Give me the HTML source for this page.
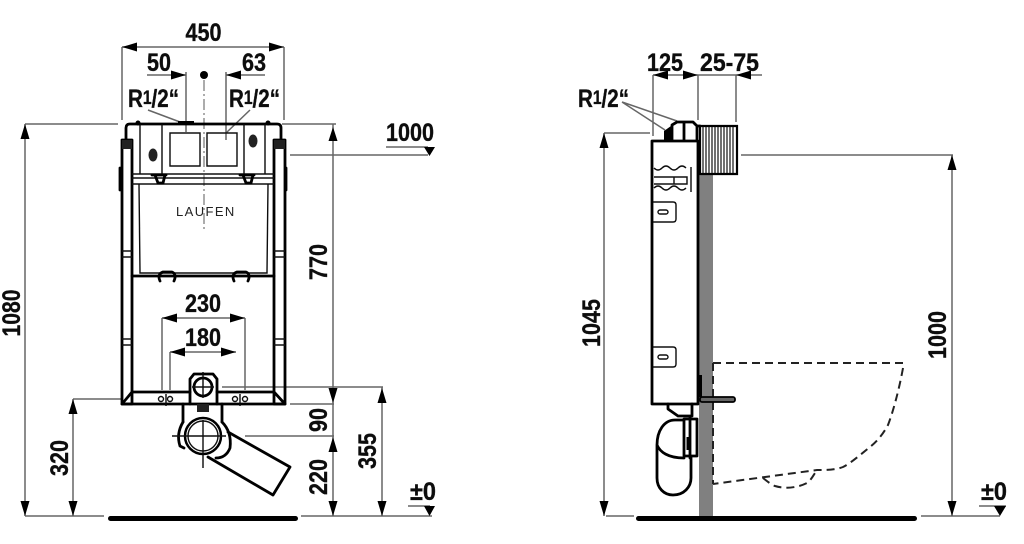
<!DOCTYPE html>
<html><head><meta charset="utf-8"><style>
html,body{margin:0;padding:0;background:#fff;width:1024px;height:544px;overflow:hidden}
svg{display:block}
text{font-family:"Liberation Sans",sans-serif;font-weight:bold;font-size:25px;fill:#111;stroke:#111;stroke-width:.35}
.d{stroke:#666;stroke-width:1.5;fill:none}
.k{stroke:#000;stroke-width:2.8;fill:none;stroke-linejoin:round;stroke-linecap:round}
.t{stroke:#111;stroke-width:1.4;fill:none}
.c{stroke:#888;stroke-width:1.4;fill:none;stroke-dasharray:11 3 2 3}
.b{stroke:#222;stroke-width:2;fill:none;stroke-dasharray:8 5}
</style></head><body>
<svg width="1024" height="544" viewBox="0 0 1024 544" xmlns="http://www.w3.org/2000/svg">
<defs><filter id="s" x="0" y="0" width="100%" height="100%"><feGaussianBlur stdDeviation="0.35"/></filter></defs>
<rect width="1024" height="544" fill="#fff"/>
<g filter="url(#s)">
<!-- LEFT dims -->
<path class="d" d="M122 47H284M122 47V120M284 47V120M147 75H186M226 75H265M186 72V132M226 72V140M25 124H118M25 124V516M25 516H104M73 399H122M73 399V516M282 124H336M333 124V516M290 155H428M162 318H245M162 318V390M245 318V390M170 352H236M170 352V390M222 387H383M382 387V516M290 404H334M245 436H334M301 516H432M148 110L180 122M250 110L226 133M386 147H428M408 506H430"/>
<g fill="#000">
<path d="M122 47l15-4.500v9zM284 47l-15-4.500v9zM186 75l-15-4.500v9zM226 75l15-4.500v9z"/>
<path d="M25 124l-4.500 15h9zM25 516l-4.500-15h9zM73 399l-4.500 15h9zM73 516l-4.500-15h9zM333 127l-4.500 14h9zM333 403l-4.500-15h9zM333 437l-4.500 15h9zM333 516l-4.500-15h9zM382 388l-4.500 15h9zM382 516l-4.500-15h9z"/>
<path d="M162 318l15-4.500v9zM245 318l-15-4.500v9zM170 352l15-4.500v9zM236 352l-15-4.500v9z"/>
<path d="M424 147h11l-5.500 9zM424 506h11l-5.500 10z"/>
<circle cx="204" cy="75" r="4"/>
<rect x="108" y="516" width="190" height="5" rx="2.500"/>
</g>
<path class="c" d="M204 80V232"/>
<!-- LEFT frame -->
<path class="k" d="M126 140V128Q126 124 130 124H277Q281 124 281 128V140"/>
<path class="k" d="M122 140H132V404H122ZM274 140H285V404H274Z" />
<path class="k" d="M122 404H285M132 392H190M217 392H274M122 404L132 392M285 404L274 392"/>
<path class="t" stroke-width="1.700" d="M140 124V174M265 124V174M162 124V174M244 124V174"/>
<path class="t" stroke-width="1.900" d="M170 133H200V166H170ZM207 133H237V166H207Z"/>
<path class="t" stroke-width="1.600" d="M132 174H274M132 178H274M132 184H274"/>
<path class="k" stroke-width="1.800" d="M152 175H166M155 175L158 183H163L165 175M240 175H254M243 175L246 183H251L253 175"/>
<path class="t" stroke-width="1.700" d="M139 184L140 273H267L268 184"/>
<path class="k" stroke-width="2" d="M132 276H274"/>
<path class="k" stroke-width="1.800" d="M160 281q-3-7 3-9H172q5 2 2 9M234 281q-3-7 3-9H246q5 2 2 9"/>
<ellipse cx="153" cy="155" rx="4.500" ry="6.500" fill="#222"/><ellipse cx="253" cy="141" rx="4.500" ry="6.500" fill="#222"/>
<rect x="122" y="140" width="10" height="9" fill="#222"/><rect x="274" y="140" width="11" height="9" fill="#222"/>
<path class="k" stroke-width="2.500" d="M120 168V190M286 168V190"/>
<path class="t" stroke-width="1.700" d="M122 251H132M122 257H132M274 251H285M274 257H285M122 339H132M122 345H132M274 339H285M274 345H285"/>
<rect x="178" y="121" width="16" height="3" fill="#000"/>
<circle cx="138" cy="123" r="2.500" fill="#000"/><circle cx="268" cy="123" r="2.500" fill="#000"/>
<text x="176" y="216" style="font-weight:normal;font-size:13px;letter-spacing:1.400px;stroke:none;fill:#222">LAUFEN</text>
<!-- bolts -->
<g class="t"><circle cx="161" cy="399" r="2.500"/><circle cx="170" cy="399" r="2.500"/><circle cx="235" cy="399" r="2.500"/><circle cx="245" cy="399" r="2.500"/><path d="M166 394V406M240 394V406"/></g>
<!-- pipe -->
<path class="k" fill="#fff" d="M190 392V379L194 374H213L217 379V392M190 392V404M217 392V404"/>
<circle class="k" cx="203" cy="387" r="9"/><path class="t" d="M203 372V398M192 387H214"/>
<path class="k" d="M183 404V422M222 404V422"/>
<path d="M197 404h12v8h-12z" fill="#222"/>
<path class="k" stroke-width="2.800" d="M183 422Q176 434 180 446L184 448M222 422Q232 432 230 448Q226 458 216 458"/>
<path class="k" d="M228 432L290 467L273 495L208 457"/>
<circle cx="203" cy="436" r="18" fill="#fff" stroke="#000" stroke-width="2.500"/><circle cx="203" cy="436" r="15" class="t"/>
<path class="t" d="M203 420V468M172 436H226" stroke="#555"/>
<!-- RIGHT dims -->
<path class="d" d="M653 75H698M698 75H762M653 75V136M698 75V120M736 75V122M622 102L677 121M622 102L665 130M604 133H650M604 133V516M741 155H953M952 155V516M606 516H634M921 516H1000M979 506H1006"/>
<g fill="#000">
<path d="M653 75l15-4.500v9zM698 75l-15-4.500v9zM736 75l15-4.500v9z"/>
<path d="M604 133l-4.500 15h9zM604 516l-4.500-15h9zM952 155l-4.500 15h9zM952 516l-4.500-15h9z"/>
<path d="M994 506h12l-6 10z"/>
<rect x="636" y="516" width="281" height="5" rx="2.500"/>
</g>
<!-- wall -->
<rect x="699" y="174" width="14" height="342" fill="#808080"/>
<!-- ribbed box -->
<path d="M700 126H737V174H700Z" fill="#fff" stroke="#000" stroke-width="2.200"/>
<path stroke="#222" stroke-width="1.300" d="M703 127V173M706 127V173M709 127V173M712 127V173M715 127V173M718 127V173M721 127V173M724 127V173M727 127V173M730 127V173M733 127V173"/>
<!-- panel -->
<path class="k" d="M652 141H698V404H652Z"/>
<path class="k" d="M672 140V125L677 122H693L697 126V140M684 122V140"/>
<path d="M664 140V131L671 126V140Z" fill="#000"/>
<path class="k" stroke-width="1.500" d="M697 126H700"/>
<path class="t" stroke-width="1.800" d="M654 168q4 4 8 0t8 0t8 0t8 0M654 188q4-4 8 0t8 0t8 0t8 0M691 167V192M654 177H687V184H654M674 177V184"/>
<path class="t" stroke-width="1.800" d="M653 202H673Q676 202 676 205V219Q676 222 673 222H653M653 347H673Q676 347 676 350V364Q676 367 673 367H653"/>
<rect x="658" y="210" width="10" height="4" rx="2" class="t"/><rect x="658" y="355" width="10" height="4" rx="2" class="t"/>
<!-- bowl -->
<path class="b" d="M713 363H903M903 368C899 390 893 412 888 425C882 436 876 442 870 447C860 455 851 463 843 467C835 470 826 470 817 470L713 484M713 363V484M763 478C768 482 772 485 775 486C785 489 797 488 807 483C811 480 813 476 815 473"/>
<!-- bracket -->
<rect x="700" y="397" width="35" height="5" rx="2" fill="#666" stroke="#000" stroke-width="1.800"/>
<rect x="699" y="375" width="3" height="22" fill="#000"/>
<!-- siphon -->
<path class="k" d="M668 404V409L678 416H692V404M684 420H675C664 420 657 431 657 445V478C657 488 664 495 673 495C684 495 691 487 691 478V457M657 445C660 452 668 458 684 458"/>
<path class="k" stroke-width="2" d="M684 419H697V456H684ZM690 417V458"/>
<path stroke="#000" stroke-width="3" d="M688 437V450"/>
<!-- LEFT text -->
<text x="203.500" y="41" text-anchor="middle" textLength="36" lengthAdjust="spacingAndGlyphs">450</text>
<text x="147" y="71" textLength="24" lengthAdjust="spacingAndGlyphs">50</text>
<text x="242" y="71" textLength="24" lengthAdjust="spacingAndGlyphs">63</text>
<text x="128" y="107" textLength="51" lengthAdjust="spacingAndGlyphs">R<tspan font-size="19" dy="-3">1</tspan><tspan dy="3">/2“</tspan></text>
<text x="229" y="107" textLength="51" lengthAdjust="spacingAndGlyphs">R<tspan font-size="19" dy="-3">1</tspan><tspan dy="3">/2“</tspan></text>
<text x="386" y="141" textLength="48" lengthAdjust="spacingAndGlyphs">1000</text>
<text x="203" y="312" text-anchor="middle" textLength="36" lengthAdjust="spacingAndGlyphs">230</text>
<text x="203" y="346" text-anchor="middle" textLength="36" lengthAdjust="spacingAndGlyphs">180</text>
<text x="410" y="500" textLength="26" lengthAdjust="spacingAndGlyphs">±0</text>
<text transform="translate(20 313) rotate(-90)" text-anchor="middle" textLength="47" lengthAdjust="spacingAndGlyphs">1080</text>
<text transform="translate(68 458) rotate(-90)" text-anchor="middle" textLength="36" lengthAdjust="spacingAndGlyphs">320</text>
<text transform="translate(327 262) rotate(-90)" text-anchor="middle" textLength="36" lengthAdjust="spacingAndGlyphs">770</text>
<text transform="translate(327 420) rotate(-90)" text-anchor="middle" textLength="24" lengthAdjust="spacingAndGlyphs">90</text>
<text transform="translate(327 477) rotate(-90)" text-anchor="middle" textLength="36" lengthAdjust="spacingAndGlyphs">220</text>
<text transform="translate(376 451) rotate(-90)" text-anchor="middle" textLength="36" lengthAdjust="spacingAndGlyphs">355</text>
<!-- RIGHT text -->
<text x="647" y="71" textLength="36" lengthAdjust="spacingAndGlyphs">125</text>
<text x="700" y="71" textLength="59" lengthAdjust="spacingAndGlyphs">25-75</text>
<text x="578" y="107" textLength="51" lengthAdjust="spacingAndGlyphs">R<tspan font-size="19" dy="-3">1</tspan><tspan dy="3">/2“</tspan></text>
<text transform="translate(600 323) rotate(-90)" text-anchor="middle" textLength="48" lengthAdjust="spacingAndGlyphs">1045</text>
<text transform="translate(946 335) rotate(-90)" text-anchor="middle" textLength="48" lengthAdjust="spacingAndGlyphs">1000</text>
<text x="981" y="500" textLength="26" lengthAdjust="spacingAndGlyphs">±0</text>
</g>
</svg>
</body></html>
